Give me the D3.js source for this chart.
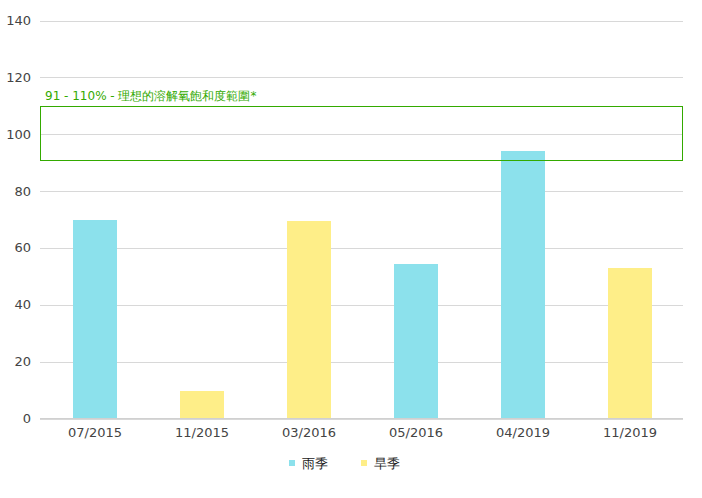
<!DOCTYPE html>
<html>
<head>
<meta charset="utf-8">
<script src="https://cdn.jsdelivr.net/npm/d3@7"></script>
<style>
  body { margin: 0; background: #fff; }
  text { font-family: "DejaVu Sans", sans-serif; }
</style>
</head>
<body>
<svg id="chart"></svg>
<script>
const categories = ["07/2015", "11/2015", "03/2016", "05/2016", "04/2019", "11/2019"];
const seriesNames = ["雨季", "旱季"];
const rainyValues = [69.7, 0, 0, 54.2, 94, 0];
const dryValues = [0.3, 9.5, 69.6, 0, 0, 53.1];
const yTicks = [0, 20, 40, 60, 80, 100, 120, 140];
const bandFrom = 91;
const bandTo = 110;
const bandLabel = "91 - 110% - 理想的溶解氧飽和度範圍*";

const width = 702;
const height = 498;
const colors = { "雨季": "#8ce1ec", "旱季": "#feee88" };

const svg = d3.select("#chart").attr("width", width).attr("height", height);

const x = d3.scaleBand().domain(categories).range([41.5, 683.5]);
const y = d3.scaleLinear().domain([0, 140]).range([418.5, 20.5]);

// grid
svg.append("g")
  .selectAll("line")
  .data(yTicks)
  .enter()
  .append("line")
  .attr("x1", 40)
  .attr("x2", 683)
  .attr("y1", (d) => Math.round(y(d)) + 0.5)
  .attr("y2", (d) => Math.round(y(d)) + 0.5)
  .attr("stroke", "#d8d8d8")
  .attr("stroke-width", 1);

svg.append("g")
  .selectAll("text")
  .data(yTicks)
  .enter()
  .append("text")
  .attr("x", 31)
  .attr("y", (d) => y(d) + 4.5)
  .attr("text-anchor", "end")
  .attr("fill", "#444")
  .style("font-size", "13px")
  .text((d) => d);

// stacked bars: dry at bottom, rainy on top
const rows = categories.map((c, i) => ({ cat: c, "旱季": dryValues[i], "雨季": rainyValues[i] }));
const stack = d3.stack().keys(["旱季", "雨季"])(rows);
const barW = 44;

svg.append("g")
  .selectAll("g")
  .data(stack)
  .enter()
  .append("g")
  .attr("fill", (s) => colors[s.key])
  .selectAll("rect")
  .data((s) => s.filter((d) => d[1] > d[0]))
  .enter()
  .append("rect")
  .attr("x", (d) => Math.round(x(d.data.cat) + x.bandwidth() / 2 - barW / 2))
  .attr("width", barW)
  .attr("y", (d) => Math.round(y(d[1])))
  .attr("height", (d) => Math.max(1, Math.round(y(d[0])) - Math.round(y(d[1]))));

// x axis
svg.append("line")
  .attr("x1", 40).attr("x2", 683)
  .attr("y1", 418.5).attr("y2", 418.5)
  .attr("stroke", "#d0d0d0");

svg.append("g")
  .selectAll("text")
  .data(categories)
  .enter()
  .append("text")
  .attr("x", (d) => x(d) + x.bandwidth() / 2)
  .attr("y", 437)
  .attr("text-anchor", "middle")
  .attr("fill", "#444")
  .style("font-size", "13px")
  .text((d) => d);

// plot band
svg.append("rect")
  .attr("x", 40.5)
  .attr("y", Math.round(y(bandTo)) + 0.5)
  .attr("width", 642)
  .attr("height", Math.round(y(bandFrom)) - Math.round(y(bandTo)))
  .attr("fill", "none")
  .attr("stroke", "#33aa00")
  .attr("stroke-width", 1);

svg.append("text")
  .attr("x", 45)
  .attr("y", 100)
  .attr("fill", "#33aa00")
  .style("font-size", "12px")
  .text(bandLabel);

// legend
const legendX = [289, 361];
const legendItem = svg.append("g")
  .selectAll("g")
  .data(seriesNames)
  .enter()
  .append("g")
  .attr("transform", (d, i) => "translate(" + legendX[i] + ",460)");

legendItem.append("rect")
  .attr("width", 6)
  .attr("height", 6)
  .attr("fill", (d) => colors[d]);

legendItem.append("text")
  .attr("x", 13)
  .attr("y", 8)
  .attr("fill", "#222")
  .style("font-size", "13px")
  .text((d) => d);
</script>
</body>
</html>
